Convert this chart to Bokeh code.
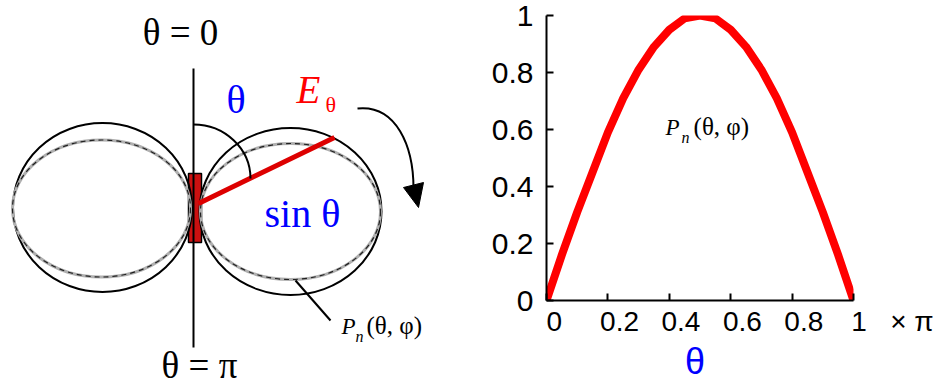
from bokeh.plotting import figure
from bokeh.layouts import row
from bokeh.models import Range1d, FixedTicker
from bokeh.core.properties import value
from bokeh.embed import file_html
from bokeh.resources import INLINE

# ---------------- data: normalised pattern P_n versus theta (units of pi) ----
theta_frac = [0.0, 0.05, 0.1, 0.15, 0.2, 0.25, 0.3, 0.35, 0.4, 0.45, 0.5,
              0.55, 0.6, 0.65, 0.7, 0.75, 0.8, 0.85, 0.9, 0.95, 1.0]
pattern = [0.0, 0.16, 0.31, 0.45, 0.59, 0.71, 0.81, 0.89, 0.95, 0.99, 1.0,
           0.99, 0.95, 0.89, 0.81, 0.71, 0.59, 0.45, 0.31, 0.16, 0.0]
x_ticks = [0, 0.2, 0.4, 0.6, 0.8, 1]
x_tick_labels = ["0", "0.2", "0.4", "0.6", "0.8", "1"]
x_unit = "× π"
y_ticks = [0, 0.2, 0.4, 0.6, 0.8, 1]
y_tick_labels = ["0", "0.2", "0.4", "0.6", "0.8", "1"]

# ---------------- sketch geometry (panel pixels, y grows downward) ----------
lobe_cx = [102, 290]
lobe_cy = [207, 211]
solid_w = [179, 182]
solid_h = [169, 167]
dash_cx = [101, 290]
dash_cy = [208, 211]
dash_w = [178, 180]
dash_h = [137, 136]
axis_x = [193, 193]
axis_y = [68, 347]
dipole_box = dict(left=188, right=201, top=173, bottom=242)
field_vec = dict(x0=198, y0=203, x1=334, y1=137)
angle_arc = dict(x0=193, y0=124, cx0=224, cy0=124, cx1=250, cy1=148, x1=250, y1=178)
sweep_arc = dict(x0=357, y0=108, cx0=396, cy0=104, cx1=413, cy1=146, x1=413, y1=188)
sweep_head_x = [403, 423, 418]
sweep_head_y = [187, 182, 207]
leader = dict(x0=295, y0=280, x1=330, y1=320)

SERIF = "Liberation Serif"
SANS = "Liberation Sans"
BLUE = "#0000ff"
RED = "#ff0000"
NBSP = "\u00a0"
BASE_SHIFT = 0.35   # alphabetic baseline correction, in font sizes

# ---------------- left panel: dipole radiation sketch -----------------------
left = figure(width=470, height=385, x_range=Range1d(0, 470), y_range=Range1d(385, 0),
              output_backend="svg", toolbar_location=None, min_border=0,
              x_axis_location=None, y_axis_location=None)
left.frame_align = False
left.grid.visible = False
left.outline_line_color = None

left.quad(fill_color="#cc1010", line_color="black", line_width=1.5, **dipole_box)

left.ellipse(x=lobe_cx, y=lobe_cy, width=solid_w, height=solid_h,
             fill_alpha=0, line_color="black", line_width=2)
left.ellipse(x=dash_cx, y=dash_cy, width=dash_w, height=dash_h,
             fill_alpha=0, line_color="#b0b0b0", line_width=3)
left.ellipse(x=dash_cx, y=dash_cy, width=dash_w, height=dash_h,
             fill_alpha=0, line_color="#202020", line_width=1.2, line_dash="5 4")

left.line(axis_x, axis_y, line_color="black", line_width=2)
left.segment(line_color="#dd0000", line_width=5, **field_vec)
left.bezier(line_color="black", line_width=2, **angle_arc)
left.bezier(line_color="black", line_width=2, **sweep_arc)
left.patch(sweep_head_x, sweep_head_y, fill_color="black", line_color="black")
left.segment(line_color="black", line_width=2, **leader)


def txt(fig, x, y, s, size, px_per_unit, color="black", font=SERIF, style="normal",
        align="left"):
    # px_per_unit < 0 for a downward-growing y range
    y = y + BASE_SHIFT * size / px_per_unit
    fig.text(x=[x], y=[y], text=[s], text_font=value(font), text_font_size=f"{size}px",
             text_color=color, text_font_style=style, text_align=align,
             text_baseline="alphabetic")


L = -1.0
txt(left, 180, 45, "θ = 0", 37, L, align="center")
txt(left, 199, 378, "θ = π", 37, L, align="center")
txt(left, 226, 113, "θ", 40, L, color=BLUE)
txt(left, 264, 227, "sin θ", 40, L, color=BLUE)
txt(left, 296, 103, "E", 39, L, color=RED, style="italic")
txt(left, 325, 112, "θ", 22, L, color=RED)
txt(left, 341, 334, "P", 23, L, style="italic")
txt(left, 355, 342, "n", 16, L, style="italic")
txt(left, 366, 334, "(θ, φ)", 25, L)

# ---------------- right panel: P_n(theta) ----------------------------------
right = figure(width=468, height=385, x_range=Range1d(0, 1), y_range=Range1d(0, 1),
               output_backend="svg", toolbar_location=None,
               min_border_left=76, min_border_right=85, min_border_top=15,
               min_border_bottom=85)
right.frame_align = False
right.grid.visible = False
right.outline_line_color = None

right.line(theta_frac, pattern, line_color=RED, line_width=8)

# tick labels sit a little to the right of their ticks; the last one carries the unit
x_pad = [2, 3, 3, 3, 3, 0]
x_label_map = {t: NBSP * k + l for t, l, k in zip(x_ticks, x_tick_labels, x_pad)}
tail = x_tick_labels[-1] + NBSP * 3 + x_unit.replace(" ", NBSP)
x_label_map[x_ticks[-1]] = NBSP * 10 + tail

for ax, ticks, labels, standoff, size in ((right.xaxis[0], x_ticks, x_label_map, 5, 28),
                                          (right.yaxis[0], y_ticks,
                                           dict(zip(y_ticks, y_tick_labels)), 13, 30)):
    ax.ticker = FixedTicker(ticks=ticks)
    ax.major_label_overrides = labels
    ax.minor_tick_line_color = None
    ax.major_tick_in = 7
    ax.major_tick_out = 0
    ax.major_tick_line_width = 2
    ax.axis_line_width = 2
    ax.axis_line_color = "black"
    ax.major_tick_line_color = "black"
    ax.major_label_text_font = SANS
    ax.major_label_text_font_size = f"{size}px"
    ax.major_label_text_color = "black"
    ax.major_label_standoff = standoff

xa = right.xaxis[0]
xa.axis_label = "θ" + NBSP
xa.axis_label_text_font = SANS
xa.axis_label_text_font_style = "normal"
xa.axis_label_text_font_size = "36px"
xa.axis_label_text_color = BLUE
xa.axis_label_standoff = 1
xa.major_label_text_line_height = 0.9
xa.axis_label_text_line_height = 0.9

R = 285.0
txt(right, 0.388, 0.579, "P", 23, R, style="italic")
txt(right, 0.440, 0.554, "n", 16, R, style="italic")
txt(right, 0.479, 0.579, "(θ, φ)", 25, R)

layout = row(left, right, spacing=0)
open("out.html", "w").write(file_html(layout, INLINE))
